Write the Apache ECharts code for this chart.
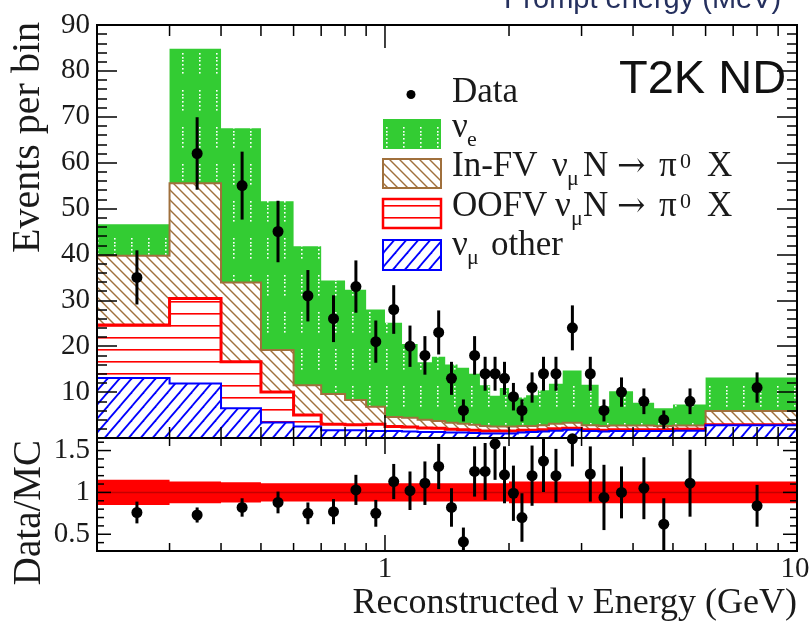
<!DOCTYPE html>
<html>
<head>
<meta charset="utf-8">
<script src="https://cdn.jsdelivr.net/npm/echarts@6/dist/echarts.min.js"></script>
<style>
  html, body { margin: 0; padding: 0; background: #ffffff; }
  #chart { width: 811px; height: 623px; }
</style>
</head>
<body>
<div id="chart"></div>
<script>
// Bin edges of the reconstructed neutrino energy histogram (GeV)
const binEdges = [0.2, 0.3, 0.4, 0.5, 0.6, 0.7, 0.8, 0.9, 1.0, 1.1, 1.2, 1.3, 1.4, 1.5, 1.6, 1.7, 1.8, 1.9,
                  2.0, 2.1, 2.2, 2.35, 2.5, 2.7, 3.0, 3.3, 3.5, 4.0, 4.5, 5.0, 6.0, 10.0];

// MC predictions, events per bin, stacked bottom to top
const numuOther = [13.1, 11.9, 6.5, 3.4, 2.5, 1.7, 1.7, 1.5,
                   1.5, 1.4, 1.3, 1.3, 1.2, 1.2, 1.1, 1.0, 1.0, 1.0, 1.0, 1.2, 1.3, 1.4, 1.6, 1.8, 1.5, 1.4, 1.5, 1.5, 1.5, 1.6, 2.8];
const oofvPi0   = [11.5, 18.5, 10.1, 6.6, 2.5, 1.3, 1.2, 1.5,
                   1.0, 1.0, 0.9, 0.8, 0.7, 0.6, 0.6, 0.5, 0.5, 0.5, 0.5, 0.5, 0.4, 0.4, 0.4, 0.3, 0.3, 0.3, 0.3, 0.3, 0.3, 0.3, 0.1];
const infvPi0   = [15.1, 25.1, 17.3, 9.2, 6.5, 6.6, 5.4, 3.8,
                   2.1, 2.0, 1.8, 1.6, 1.4, 1.3, 1.2, 1.1, 1.0, 1.0, 1.0, 0.9, 0.9, 1.0, 1.1, 1.2, 1.0, 0.9, 0.9, 0.9, 0.8, 0.8, 3.0];
const nue       = [6.9, 29.3, 33.6, 32.4, 30.3, 24.7, 24.0, 21.2,
                   20.5, 16.1, 12.5, 14.0, 12.7, 12.2, 11.1, 8.9, 6.7, 8.4, 7.1, 6.2, 6.7, 7.6, 8.7, 11.4, 8.8, 4.4, 7.5, 5.0, 3.9, 4.6, 7.3];

// Observed events per bin and their statistical errors
const dataCounts = [35, 62, 55, 45, 31, 26, 33, 21,
                    28, 20, 18, 23, 13, 6, 18, 14, 14, 13, 9, 6, 11, 14, 14, 24, 14, 6, 10, 8, 4, 8, 11];
const dataErrors = [5.9, 7.9, 7.4, 6.7, 5.6, 5.1, 5.7, 4.6,
                    5.3, 4.5, 4.2, 4.8, 3.6, 2.4, 4.2, 3.7, 3.7, 3.6, 3.0, 2.4, 3.3, 3.7, 3.7, 4.9, 3.7, 2.4, 3.2, 2.8, 2.0, 2.8, 3.3];

// Data/MC ratio, its errors and the MC systematic band half-width
const ratio      = [0.76, 0.73, 0.82, 0.88, 0.75, 0.77, 1.03, 0.75,
                    1.13, 1.02, 1.11, 1.31, 0.82, 0.41, 1.25, 1.25, 1.58, 1.21, 0.99, 0.70, 1.20, 1.375, 1.20, 1.64, 1.22, 0.94, 1.00, 1.05, 0.62, 1.11, 0.84];
const ratioErr   = [0.13, 0.09, 0.11, 0.13, 0.13, 0.15, 0.18, 0.16,
                    0.21, 0.23, 0.26, 0.27, 0.23, 0.17, 0.30, 0.34, 0.43, 0.34, 0.33, 0.29, 0.36, 0.37, 0.32, 0.33, 0.33, 0.39, 0.31, 0.37, 0.31, 0.40, 0.25];
const mcBand     = [0.15, 0.13, 0.12, 0.11, 0.11, 0.11, 0.11, 0.11,
                    0.11, 0.11, 0.11, 0.11, 0.11, 0.11, 0.11, 0.11, 0.11, 0.11, 0.13, 0.13, 0.13, 0.13, 0.13, 0.13, 0.13, 0.13, 0.13, 0.13, 0.13, 0.13, 0.13];

// Axis ticks and labels
const xMinorTicks = [0.3, 0.4, 0.5, 0.6, 0.7, 0.8, 0.9, 2, 3, 4, 5, 6, 7, 8, 9];
const xMajorTicks = [1];
const xTickLabels = [1, 10];
const ratioMinorTicks = [0.4, 0.6, 0.7, 0.8, 0.9, 1.1, 1.2, 1.3, 1.4, 1.6];
const ratioMajorTicks = [0.5, 1, 1.5];
const ratioTickLabels = ['0.5', '1', '1.5'];

const SERIF = '"Liberation Serif", "Times New Roman", serif';
const SANS = '"Liberation Sans", Arial, sans-serif';
const INK = '#1a1a1a';
const BROWN = '#a0703c';

const nBins = binEdges.length - 1;
const centers = binEdges.slice(0, -1).map((lo, i) => (lo + binEdges[i + 1]) / 2);
function cumulate(layers) {
  return layers[0].map((_, i) => layers.reduce((s, l) => s + l[i], 0));
}
const zeros = new Array(nBins).fill(0);
const cumBlue = cumulate([numuOther]);
const cumRed = cumulate([numuOther, oofvPi0]);
const cumBrown = cumulate([numuOther, oofvPi0, infvPi0]);
const cumTotal = cumulate([numuOther, oofvPi0, infvPi0, nue]);

// Fill patterns
function makeTile(w, h, bg, draw) {
  const c = document.createElement('canvas');
  c.width = w; c.height = h;
  const g = c.getContext('2d');
  g.fillStyle = bg; g.fillRect(0, 0, w, h);
  draw(g, w, h);
  return c;
}
const greenFill = { image: makeTile(17, 37, '#33cc33', (g) => {
  g.fillStyle = '#ffffff';
  for (let k = 0; k < 6; k++) g.fillRect(12, 16 + Math.round(k * 3.7), 1.6, 1.6);
}), repeat: 'repeat' };
const brownFill = { image: makeTile(10, 10, '#ffffff', (g, w, h) => {
  g.strokeStyle = BROWN; g.lineWidth = 1.4;
  for (let k = -1; k <= 1; k++) { g.beginPath(); g.moveTo(k * w - 3, -3); g.lineTo(k * w + w + 3, h + 3); g.stroke(); }
}), repeat: 'repeat' };
const redFill = { image: makeTile(8, 12, '#ffffff', (g, w) => {
  g.fillStyle = '#ff0000'; g.fillRect(0, 1, w, 1.6);
}), repeat: 'repeat' };
const blueFill = { image: makeTile(12, 14, '#ffffff', (g, w, h) => {
  g.strokeStyle = '#0000ff'; g.lineWidth = 1.8;
  for (let k = -1; k <= 1; k++) {
    g.beginPath(); g.moveTo(k * w - 0.3 * w, h + 0.3 * h); g.lineTo(k * w + 1.3 * w, -0.3 * h); g.stroke();
  }
}), repeat: 'repeat' };

// One stacked component drawn as a stepped band with its outline
function layerSeries(name, lower, upper, fill, stroke, strokeWidth, z) {
  return {
    name, type: 'custom', xAxisIndex: 0, yAxisIndex: 0, data: [[1, 1]], silent: true, z,
    renderItem: (params, api) => {
      const top = [], bot = [];
      for (let i = 0; i < nBins; i++) {
        top.push(api.coord([binEdges[i], upper[i]]), api.coord([binEdges[i + 1], upper[i]]));
      }
      for (let i = nBins - 1; i >= 0; i--) {
        bot.push(api.coord([binEdges[i + 1], lower[i]]), api.coord([binEdges[i], lower[i]]));
      }
      const children = [{ type: 'polygon', shape: { points: top.concat(bot) }, style: { fill: fill, stroke: null } }];
      if (stroke) children.push({ type: 'polyline', shape: { points: top }, style: { stroke, lineWidth: strokeWidth, fill: null } });
      return { type: 'group', children };
    }
  };
}

function errorBarSeries(xi, yi, rows, clip, z) {
  return {
    type: 'custom', xAxisIndex: xi, yAxisIndex: yi, data: rows, silent: true, clip, z,
    encode: { x: 0, y: 1 },
    renderItem: (params, api) => {
      const x = api.value(0), y = api.value(1), e = api.value(2);
      const a = api.coord([x, y - e]), b = api.coord([x, y + e]);
      return { type: 'line', shape: { x1: a[0], y1: a[1], x2: b[0], y2: b[1] }, style: { stroke: '#000', lineWidth: 3 } };
    }
  };
}

function seg(x1, y1, x2, y2, w) {
  return { type: 'line', shape: { x1, y1, x2, y2 }, style: { stroke: '#000', lineWidth: w || 1.5 } };
}

// Frame, tick marks and tick labels drawn on top of the histograms
function frameSeries(xi, yi, yLo, yHi, xTickLen, yTicks, z) {
  return {
    type: 'custom', xAxisIndex: xi, yAxisIndex: yi, data: [[1, 1]], silent: true, z,
    renderItem: (params, api) => {
      const ch = [];
      const p0 = api.coord([0.2, yHi]), p1 = api.coord([10, yLo]);
      const addX = (v, len) => {
        const b = api.coord([v, yLo]), t = api.coord([v, yHi]);
        ch.push(seg(b[0], b[1], b[0], b[1] - len));
        ch.push(seg(t[0], t[1], t[0], t[1] + len));
      };
      xMinorTicks.forEach(v => addX(v, xTickLen[0]));
      xMajorTicks.forEach(v => addX(v, xTickLen[1]));
      if (yTicks) {
        const addY = (v, len) => {
          const l = api.coord([0.2, v]), r = api.coord([10, v]);
          ch.push(seg(l[0], l[1], l[0] + len, l[1]));
          ch.push(seg(r[0], r[1], r[0] - len, r[1]));
        };
        ratioMinorTicks.forEach(v => addY(v, 7));
        ratioMajorTicks.forEach(v => addY(v, 14));
        ratioMajorTicks.forEach((v, i) => {
          const l = api.coord([0.2, v]);
          ch.push({ type: 'text', x: l[0] - 7, y: l[1], style: { text: ratioTickLabels[i], fontFamily: SERIF, fontSize: 29, fill: INK, align: 'right', verticalAlign: 'middle' } });
        });
        xTickLabels.forEach(v => {
          const b = api.coord([v, yLo]);
          const cx = v === 10 ? b[0] - 2 : b[0];
          ch.push({ type: 'text', x: cx, y: b[1] + 18, style: { text: String(v), fontFamily: SERIF, fontSize: 29, fill: INK, align: 'center', verticalAlign: 'middle' } });
        });
      }
      ch.push({ type: 'rect', shape: { x: p0[0], y: p0[1], width: p1[0] - p0[0], height: p1[1] - p0[1] }, style: { fill: null, stroke: '#000', lineWidth: 2 } });
      return { type: 'group', children: ch };
    }
  };
}

// Legend
const legendRows = [
  { base: 105, pieces: [{ t: 'Data', x: 452 }] },
  { base: 140, pieces: [{ t: 'ν', x: 452 }, { t: 'e', x: 467, sub: true }] },
  { base: 179, pieces: [{ t: 'In-FV', x: 452 }, { t: 'ν', x: 552 }, { t: 'μ', x: 567, sub: true }, { t: 'N', x: 583 },
                        { t: '→', x: 617, arrow: true }, { t: 'π', x: 659 }, { t: '0', x: 680, sup: true }, { t: 'X', x: 707 }] },
  { base: 219, pieces: [{ t: 'OOFV', x: 452 }, { t: 'ν', x: 555 }, { t: 'μ', x: 571, sub: true }, { t: 'N', x: 583 },
                        { t: '→', x: 617, arrow: true }, { t: 'π', x: 659 }, { t: '0', x: 680, sup: true }, { t: 'X', x: 707 }] },
  { base: 258, pieces: [{ t: 'ν', x: 452 }, { t: 'μ', x: 467, sub: true }, { t: 'other', x: 491 }] }
];
const legendBoxes = [
  { y: 119, h: 30, fill: greenFill, stroke: null, w: 0 },
  { y: 159, h: 29, fill: brownFill, stroke: BROWN, w: 2 },
  { y: 199, h: 29, fill: redFill, stroke: '#ff0000', w: 2.5 },
  { y: 240, h: 30, fill: blueFill, stroke: '#0000ff', w: 2 }
];
const graphics = [];
legendRows.forEach(row => {
  row.pieces.forEach(p => {
    const fs = (p.sub || p.sup) ? 22 : (p.arrow ? 34 : 35);
    const base = row.base + (p.sub ? 8 : 0) + (p.sup ? -9 : 0);
    const family = p.arrow ? '"DejaVu Serif", serif' : SERIF;
    graphics.push({ type: 'text', x: p.x, y: base - 0.3375 * fs, z: 50,
      style: { text: p.t, fontFamily: family, fontSize: fs, fill: INK, align: 'left', verticalAlign: 'middle' } });
  });
});
legendBoxes.forEach(b => {
  graphics.push({ type: 'rect', z: 50, shape: { x: 383, y: b.y, width: 58, height: b.h },
    style: { fill: b.fill, stroke: b.stroke, lineWidth: b.w } });
});
graphics.push({ type: 'circle', z: 50, shape: { cx: 411, cy: 94.5, r: 4.5 }, style: { fill: '#000' } });

// Titles and annotations
graphics.push(
  { type: 'text', x: 28, y: 22, rotation: Math.PI / 2, z: 50,
    style: { text: 'Events per bin', fontFamily: SERIF, fontSize: 40, fill: INK, align: 'right', verticalAlign: 'middle' } },
  { type: 'text', x: 30, y: 440, rotation: Math.PI / 2, z: 50,
    style: { text: 'Data/MC', fontFamily: SERIF, fontSize: 39, fill: INK, align: 'right', verticalAlign: 'middle' } },
  { type: 'text', x: 797, y: 604, z: 50,
    style: { text: 'Reconstructed ν Energy (GeV)', fontFamily: SERIF, fontSize: 36, fill: INK, align: 'right', verticalAlign: 'middle' } },
  { type: 'text', x: 619, y: 80, z: 50,
    style: { text: 'T2K ND', fontFamily: SANS, fontSize: 47, fill: '#111111', align: 'left', verticalAlign: 'middle' } },
  { type: 'text', x: 504, y: 0, z: 50,
    style: { text: 'Prompt energy (MeV)', fontFamily: SANS, fontSize: 29, fill: '#25305e', align: 'left', verticalAlign: 'middle' } }
);

const yTickStyle = { color: '#000', width: 1.5 };
const option = {
  animation: false,
  backgroundColor: '#ffffff',
  grid: [
    { left: 97, top: 25, width: 700, height: 413, show: false },
    { left: 97, top: 438, width: 700, height: 113, show: false }
  ],
  xAxis: [
    { gridIndex: 0, type: 'log', logBase: 10, min: 0.2, max: 10, show: false },
    { gridIndex: 1, type: 'log', logBase: 10, min: 0.2, max: 10, show: false }
  ],
  yAxis: [
    { gridIndex: 0, type: 'value', min: 0, max: 90, interval: 10, position: 'left', z: 10,
      axisLine: { show: false }, splitLine: { show: false },
      axisTick: { show: true, inside: true, length: 20, lineStyle: yTickStyle },
      minorTick: { show: true, splitNumber: 5, length: 10, lineStyle: yTickStyle },
      axisLabel: { formatter: v => (v === 0 ? '' : String(v)), fontFamily: SERIF, fontSize: 29, color: INK, margin: 7 } },
    { gridIndex: 0, type: 'value', min: 0, max: 90, interval: 10, position: 'right', z: 10,
      axisLine: { show: false }, splitLine: { show: false },
      axisTick: { show: true, inside: true, length: 20, lineStyle: yTickStyle },
      minorTick: { show: true, splitNumber: 5, length: 10, lineStyle: yTickStyle },
      axisLabel: { show: false } },
    { gridIndex: 1, type: 'value', min: 0.3, max: 1.65, show: false }
  ],
  graphic: graphics,
  series: [
    layerSeries('ν_e', cumBrown, cumTotal, greenFill, null, 0, 2),
    layerSeries('In-FV', cumRed, cumBrown, brownFill, BROWN, 2, 3),
    layerSeries('OOFV', cumBlue, cumRed, redFill, '#ff0000', 3, 4),
    layerSeries('numu other', zeros, cumBlue, blueFill, '#0000ff', 2, 5),
    errorBarSeries(0, 0, centers.map((c, i) => [c, dataCounts[i], dataErrors[i]]), false, 20),
    { name: 'Data', type: 'scatter', xAxisIndex: 0, yAxisIndex: 0, silent: true, z: 21,
      data: centers.map((c, i) => [c, dataCounts[i]]), symbol: 'circle', symbolSize: 11,
      itemStyle: { color: '#000', opacity: 1 } },
    // MC uncertainty band in the ratio panel
    { type: 'custom', xAxisIndex: 1, yAxisIndex: 2, data: [[1, 1]], silent: true, z: 5,
      renderItem: (params, api) => {
        const top = [], bot = [];
        for (let i = 0; i < nBins; i++) {
          top.push(api.coord([binEdges[i], 1 + mcBand[i]]), api.coord([binEdges[i + 1], 1 + mcBand[i]]));
        }
        for (let i = nBins - 1; i >= 0; i--) {
          bot.push(api.coord([binEdges[i + 1], 1 - mcBand[i]]), api.coord([binEdges[i], 1 - mcBand[i]]));
        }
        const a = api.coord([0.2, 1]), b = api.coord([10, 1]);
        return { type: 'group', children: [
          { type: 'polygon', shape: { points: top.concat(bot) }, style: { fill: '#ff0000' } },
          { type: 'line', shape: { x1: a[0], y1: a[1], x2: b[0], y2: b[1] }, style: { stroke: '#c40000', lineWidth: 1.5 } }
        ] };
      } },
    errorBarSeries(1, 2, centers.map((c, i) => [c, ratio[i], ratioErr[i]]), true, 20),
    { name: 'Ratio', type: 'scatter', xAxisIndex: 1, yAxisIndex: 2, silent: true, z: 21,
      data: centers.map((c, i) => [c, ratio[i]]), symbol: 'circle', symbolSize: 11,
      itemStyle: { color: '#000', opacity: 1 } },
    frameSeries(0, 0, 0, 90, [11, 23], false, 30),
    frameSeries(1, 2, 0.3, 1.65, [8, 16], true, 30)
  ]
};

const chart = echarts.init(document.getElementById('chart'), null, { renderer: 'canvas', width: 811, height: 623 });
chart.setOption(option);
</script>
</body>
</html>
